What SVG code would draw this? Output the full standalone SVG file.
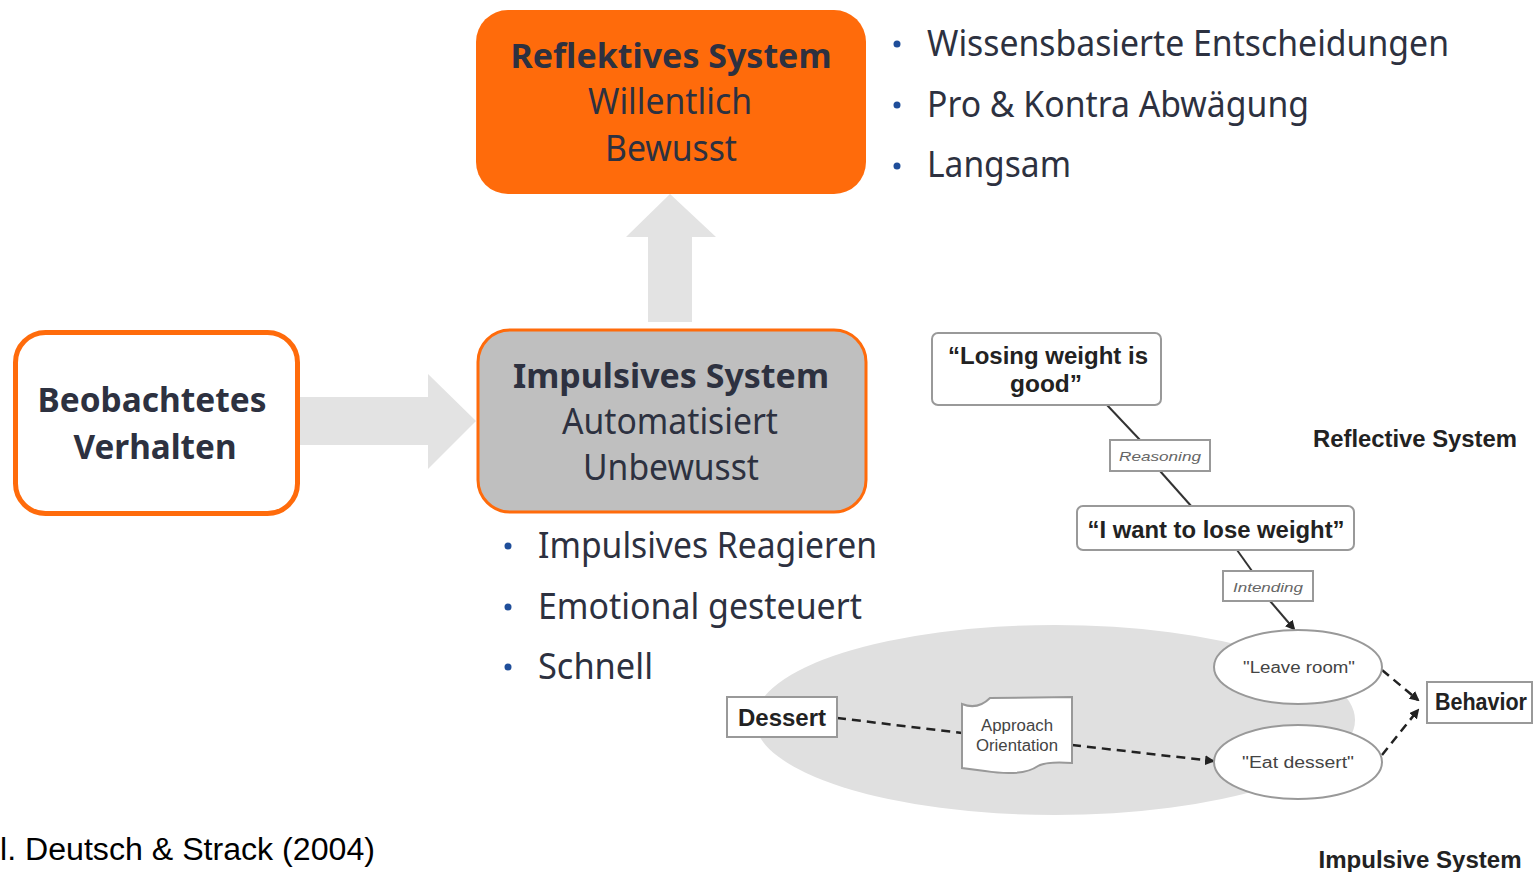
<svg xmlns="http://www.w3.org/2000/svg" width="1534" height="872" viewBox="0 0 1534 872">
<style>
.main{font-family:"Noto Sans","Open Sans",sans-serif;fill:#2D3140}
.b{font-weight:bold}
.bul{font-family:"Noto Sans",sans-serif;fill:#2D3140;font-size:36px}
.dot{fill:#1F4E9A}
.fig{font-family:"Liberation Sans",Arial,sans-serif;fill:#222;font-weight:bold;font-size:23px}
.small{font-family:"Liberation Sans",Arial,sans-serif;fill:#666;font-style:italic;font-size:13px}
.tiny{font-family:"Liberation Sans",Arial,sans-serif;fill:#444;font-size:16px}
.gbox{fill:#fff;stroke:#999;stroke-width:2}
.cline{stroke:#333;stroke-width:2;fill:none}
.dash{stroke:#222;stroke-width:2.5;fill:none;stroke-dasharray:9 6}
</style>
<defs>
<marker id="ah" markerWidth="10" markerHeight="10" refX="8" refY="5" orient="auto" markerUnits="userSpaceOnUse">
<path d="M0,0 L10,5 L0,10 z" fill="#222"/>
</marker>
</defs>
<rect width="1534" height="872" fill="#fff"/>

<g id="connectors">
<polygon points="670,194 716,237 692,237 692,322 648,322 648,237 626,237" fill="#E3E3E3"/>
<polygon points="298,397 428,397 428,374 476,421 428,469 428,445 298,445" fill="#E3E3E3"/>
</g>

<g id="reflektives">
<rect x="476" y="10" width="390" height="184" rx="32" fill="#FF6B0B"/>
<text x="671" y="68" text-anchor="middle" class="main b" font-size="34" textLength="321" lengthAdjust="spacingAndGlyphs">Reflektives System</text>
<text x="670" y="114" text-anchor="middle" class="main" font-size="36" textLength="164" lengthAdjust="spacingAndGlyphs">Willentlich</text>
<text x="671" y="161" text-anchor="middle" class="main" font-size="36" textLength="132" lengthAdjust="spacingAndGlyphs">Bewusst</text>
</g>

<g id="impulsives">
<rect x="478" y="330" width="388" height="182" rx="32" fill="#BFBFBF" stroke="#FF6B0B" stroke-width="3"/>
<text x="671" y="388" text-anchor="middle" class="main b" font-size="34" textLength="316" lengthAdjust="spacingAndGlyphs">Impulsives System</text>
<text x="670" y="434" text-anchor="middle" class="main" font-size="36" textLength="216" lengthAdjust="spacingAndGlyphs">Automatisiert</text>
<text x="671" y="480" text-anchor="middle" class="main" font-size="36" textLength="176" lengthAdjust="spacingAndGlyphs">Unbewusst</text>
</g>

<g id="beobachtetes">
<rect x="15.5" y="332.5" width="282" height="181" rx="30" fill="#fff" stroke="#FF6B0B" stroke-width="5"/>
<text x="152" y="412" text-anchor="middle" class="main b" font-size="34" textLength="229" lengthAdjust="spacingAndGlyphs">Beobachtetes</text>
<text x="155" y="459" text-anchor="middle" class="main b" font-size="34" textLength="163" lengthAdjust="spacingAndGlyphs">Verhalten</text>
</g>

<g id="bullets-top">
<circle cx="897" cy="44" r="3.5" class="dot"/>
<circle cx="897" cy="105" r="3.5" class="dot"/>
<circle cx="897" cy="166" r="3.5" class="dot"/>
<text x="927" y="56" class="bul" textLength="522" lengthAdjust="spacingAndGlyphs">Wissensbasierte Entscheidungen</text>
<text x="927" y="117" class="bul" textLength="382" lengthAdjust="spacingAndGlyphs">Pro &amp; Kontra Abwägung</text>
<text x="927" y="177" class="bul" textLength="144" lengthAdjust="spacingAndGlyphs">Langsam</text>
</g>

<g id="bullets-bottom">
<circle cx="508" cy="546" r="3.5" class="dot"/>
<circle cx="508" cy="607" r="3.5" class="dot"/>
<circle cx="508" cy="667" r="3.5" class="dot"/>
<text x="538" y="558" class="bul" textLength="339" lengthAdjust="spacingAndGlyphs">Impulsives Reagieren</text>
<text x="538" y="619" class="bul" textLength="324" lengthAdjust="spacingAndGlyphs">Emotional gesteuert</text>
<text x="538" y="679" class="bul" textLength="115" lengthAdjust="spacingAndGlyphs">Schnell</text>
</g>

<g id="rim-figure">
<ellipse cx="1055" cy="720" rx="300" ry="95" fill="#E0E0E0"/>
<g id="connectors-rim">
<line x1="1107" y1="405" x2="1140" y2="440" class="cline"/>
<line x1="1160" y1="471" x2="1192" y2="507" class="cline"/>
<line x1="1237" y1="550" x2="1252" y2="571" class="cline"/>
<line x1="1270" y1="601" x2="1294" y2="629" class="cline" marker-end="url(#ah)"/>
<path d="M837,718 L962,733" class="dash"/>
<path d="M1072,745 L1213,761" class="dash" marker-end="url(#ah)"/>
<path d="M1382,670 L1418,700" class="dash" marker-end="url(#ah)"/>
<path d="M1382,755 L1418,710" class="dash" marker-end="url(#ah)"/>
</g>
<g id="n-losing">
<rect x="932" y="333" width="229" height="72" rx="6" class="gbox"/>
<text x="1048" y="364" text-anchor="middle" class="fig" textLength="200" lengthAdjust="spacingAndGlyphs">“Losing weight is</text>
<text x="1046" y="392" text-anchor="middle" class="fig" textLength="72" lengthAdjust="spacingAndGlyphs">good”</text>
</g>
<g id="n-reasoning">
<rect x="1110" y="440" width="100" height="31" class="gbox"/>
<text x="1160" y="461" text-anchor="middle" class="small" textLength="82" lengthAdjust="spacingAndGlyphs">Reasoning</text>
</g>
<g id="n-want">
<rect x="1077" y="506" width="277" height="44" rx="6" class="gbox"/>
<text x="1216" y="538" text-anchor="middle" class="fig" textLength="257" lengthAdjust="spacingAndGlyphs">“I want to lose weight”</text>
</g>
<g id="n-intending">
<rect x="1223" y="571" width="90" height="30" class="gbox"/>
<text x="1268" y="592" text-anchor="middle" class="small" textLength="70" lengthAdjust="spacingAndGlyphs">Intending</text>
</g>
<text x="1415" y="447" text-anchor="middle" class="fig" textLength="204" lengthAdjust="spacingAndGlyphs">Reflective System</text>
<g id="n-leave">
<ellipse cx="1298" cy="667" rx="84" ry="37" class="gbox"/>
<text x="1299" y="673" text-anchor="middle" class="tiny" textLength="112" lengthAdjust="spacingAndGlyphs">"Leave room"</text>
</g>
<g id="n-eat">
<ellipse cx="1298" cy="762" rx="84" ry="37" class="gbox"/>
<text x="1298" y="768" text-anchor="middle" class="tiny" textLength="112" lengthAdjust="spacingAndGlyphs">"Eat dessert"</text>
</g>
<g id="n-dessert">
<rect x="727" y="697" width="110" height="40" class="gbox"/>
<text x="782" y="726" text-anchor="middle" class="fig" textLength="88" lengthAdjust="spacingAndGlyphs">Dessert</text>
</g>
<g id="n-approach">
<path d="M962,704 C972,708 982,706 990,698 L1072,697 L1072,763 C1058,762 1045,762 1038,766 C1028,773 1010,775 985,771 L962,768 Z" class="gbox"/>
<text x="1017" y="731" text-anchor="middle" class="tiny" textLength="72" lengthAdjust="spacingAndGlyphs">Approach</text>
<text x="1017" y="751" text-anchor="middle" class="tiny" textLength="82" lengthAdjust="spacingAndGlyphs">Orientation</text>
</g>
<g id="n-behavior">
<rect x="1427" y="682" width="105" height="41" class="gbox"/>
<text x="1481" y="710" text-anchor="middle" class="fig" textLength="92" lengthAdjust="spacingAndGlyphs">Behavior</text>
</g>
<text x="1420" y="868" text-anchor="middle" class="fig" textLength="203" lengthAdjust="spacingAndGlyphs">Impulsive System</text>
</g>

<text x="0" y="860" font-family="Liberation Sans,Arial,sans-serif" font-size="31" fill="#000" textLength="375" lengthAdjust="spacingAndGlyphs">l. Deutsch &amp; Strack (2004)</text>
</svg>
